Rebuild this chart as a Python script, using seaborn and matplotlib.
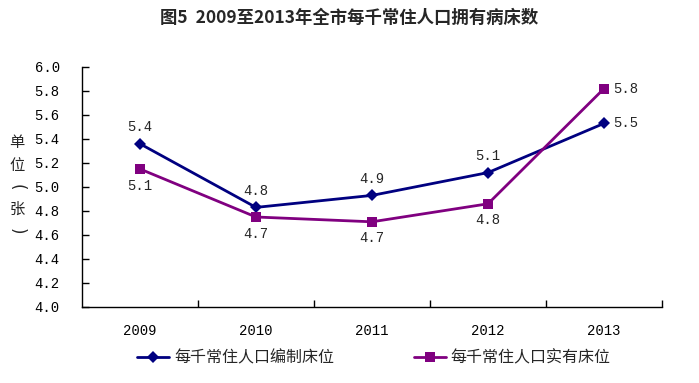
import matplotlib
matplotlib.use('Agg')
import matplotlib.pyplot as plt
from matplotlib.ticker import FixedLocator
import seaborn as sns
import pandas as pd

years = ['2009', '2010', '2011', '2012', '2013']
planned = [5.36, 4.83, 4.93, 5.12, 5.53]
actual = [5.15, 4.75, 4.71, 4.86, 5.82]
planned_labels = ['5.4', '4.8', '4.9', '5.1', '5.5']
actual_labels = ['5.1', '4.7', '4.7', '4.8', '5.8']
series_names = ['每千常住人口编制床位', '每千常住人口实有床位']
yticks = [4.0, 4.2, 4.4, 4.6, 4.8, 5.0, 5.2, 5.4, 5.6, 5.8, 6.0]
title = '图5  2009至2013年全市每千常住人口拥有病床数'
ylabel_chars = ['单', '位', '(', '张', ')']

sns.set_theme(style='white')
plt.rcParams['font.family'] = ['Liberation Mono', 'Noto Sans CJK SC', 'DejaVu Sans']

idx = list(range(len(years)))
df = pd.DataFrame({
    'x': idx + idx,
    'y': planned + actual,
    's': [series_names[0]] * len(years) + [series_names[1]] * len(years),
})

colors = {series_names[0]: '#000080', series_names[1]: '#800080'}
markers = {series_names[0]: 'D', series_names[1]: 's'}

fig = plt.figure(figsize=(6.99, 3.83), dpi=100)
ax = fig.add_axes([82 / 699, 1 - 307 / 383, (662 - 82) / 699, (307 - 67) / 383])

sns.lineplot(data=df, x='x', y='y', hue='s', style='s', markers=markers,
             dashes=False, palette=colors, ax=ax, linewidth=2.0,
             markersize=6, markeredgewidth=0)
for line in ax.lines:
    if line.get_marker() == 's':
        line.set_markersize(7)

ax.set_xlim(-0.5, len(years) - 0.5)
ax.set_ylim(4.0, 6.0)
ax.set_yticks(yticks)
ax.set_yticklabels([f'{v:.1f}' for v in yticks], fontsize=10, color='black')
ax.set_xticks(idx)
ax.set_xticklabels(years, fontsize=10, color='black')
ax.xaxis.set_minor_locator(FixedLocator([i + 0.5 for i in range(len(years))]))
ax.tick_params(axis='x', which='major', length=0, pad=12)
ax.tick_params(axis='x', which='minor', direction='in', length=5, width=1, color='black', bottom=True)
ax.tick_params(axis='y', which='major', direction='in', length=5, width=1, color='black', left=True, pad=16)
ax.set_xlabel('')
ax.set_ylabel('')
for side in ['top', 'right']:
    ax.spines[side].set_visible(False)
for side in ['left', 'bottom']:
    ax.spines[side].set_color('black')
    ax.spines[side].set_linewidth(1)

for i in idx:
    if i == len(years) - 1:
        ax.annotate(planned_labels[i], (i, planned[i]), xytext=(16, 0), textcoords='offset points',
                    ha='center', va='center', fontsize=10)
        ax.annotate(actual_labels[i], (i, actual[i]), xytext=(16, 0), textcoords='offset points',
                    ha='center', va='center', fontsize=10)
    else:
        ax.annotate(planned_labels[i], (i, planned[i]), xytext=(0, 12), textcoords='offset points',
                    ha='center', va='center', fontsize=10)
        ax.annotate(actual_labels[i], (i, actual[i]), xytext=(0, -12), textcoords='offset points',
                    ha='center', va='center', fontsize=10)

handles, labels = ax.get_legend_handles_labels()
if ax.get_legend() is not None:
    ax.get_legend().remove()
fig.legend(handles, labels, loc='center', bbox_to_anchor=(0.535, 1 - 358 / 383), ncol=2,
           frameon=False, handlelength=2.0, handletextpad=0.3, columnspacing=5.0,
           prop={'family': ['Noto Sans CJK SC'], 'size': 11.5})

fig.text(0.5, 1 - 18 / 383, title, ha='center', va='center', fontsize=12.5, fontweight='bold',
         family=['Noto Sans CJK SC'])
for k, ch in enumerate(ylabel_chars):
    if ch in '()':
        fig.text(17 / 699, 1 - (143 + k * 22) / 383, ch, ha='center', va='center', fontsize=12,
                 rotation=-90, rotation_mode='anchor', family=['DejaVu Sans'])
    else:
        fig.text(17 / 699, 1 - (143 + k * 22) / 383, ch, ha='center', va='center', fontsize=11,
                 family=['Noto Sans CJK SC'])

fig.savefig('out.png', dpi=100)
